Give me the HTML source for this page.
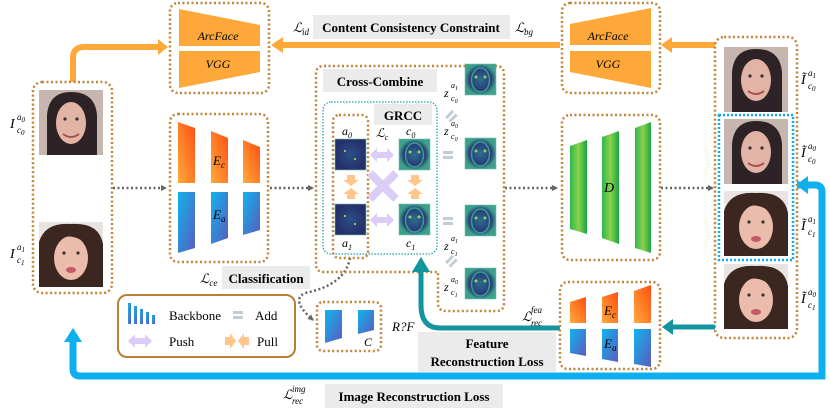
<!DOCTYPE html>
<html><head><meta charset="utf-8"><style>
html,body{margin:0;padding:0;background:#fff;}
svg{display:block;}
text{font-family:"Liberation Serif",serif;}
.b{font-weight:bold;font-size:13px;}
.i{font-style:italic;}
</style></head><body>
<svg width="830" height="414" viewBox="0 0 830 414" xmlns="http://www.w3.org/2000/svg">
<defs>
<linearGradient id="og" x1="0" y1="1" x2="1" y2="0"><stop offset="0" stop-color="#ffab3c"/><stop offset="1" stop-color="#ff4e10"/></linearGradient>
<linearGradient id="bg" x1="0" y1="0" x2="1" y2="1"><stop offset="0" stop-color="#10b4ec"/><stop offset="1" stop-color="#5a5cc0"/></linearGradient>
<linearGradient id="gg" x1="0" y1="0" x2="1" y2="0"><stop offset="0" stop-color="#2eb84a"/><stop offset="0.5" stop-color="#8ad050"/><stop offset="1" stop-color="#18a840"/></linearGradient>
<radialGradient id="fm"><stop offset="0" stop-color="#2a6f8e"/><stop offset="0.7" stop-color="#2a3a78"/><stop offset="1" stop-color="#3da08a"/></radialGradient>
<radialGradient id="fa"><stop offset="0" stop-color="#2c4f88"/><stop offset="1" stop-color="#25306a"/></radialGradient>
<g id="faceA">
<rect width="64" height="65" fill="#c7b6b0"/>
<path d="M8 65 L8 25 Q10 2 32 2 Q56 2 58 25 L58 65 Z" fill="#2d2327"/>
<ellipse cx="32" cy="33" rx="15" ry="21" fill="#e2b4a6"/>
<path d="M24 44 Q32 50 40 44" stroke="#a5504f" stroke-width="2" fill="none"/>
<circle cx="26" cy="29" r="1.6" fill="#333"/><circle cx="38" cy="29" r="1.6" fill="#333"/>
</g>
<g id="faceB">
<rect width="64" height="65" fill="#e9e4e2"/>
<path d="M0 65 L0 20 Q6 0 32 2 Q60 0 64 22 L64 65 Z" fill="#3b2620"/>
<ellipse cx="32" cy="36" rx="17" ry="22" fill="#ebbcab"/>
<path d="M16 20 Q30 8 48 22 L48 14 Q32 2 16 14 Z" fill="#3b2620"/>
<ellipse cx="32" cy="48" rx="5" ry="3" fill="#c45a68"/>
<circle cx="25" cy="31" r="1.6" fill="#333"/><circle cx="39" cy="31" r="1.6" fill="#333"/>
</g>
<g id="fmap"><rect width="31" height="31" fill="url(#fm)" stroke="#6ec0b0" stroke-width="0.6"/><ellipse cx="15.5" cy="16" rx="9" ry="12" fill="none" stroke="#35a090" stroke-width="1.5"/><circle cx="11" cy="13" r="1.5" fill="#9ad060"/><circle cx="20" cy="13" r="1.5" fill="#9ad060"/></g>
<g id="amap"><rect width="31" height="31" fill="url(#fa)" stroke="#6ec0b0" stroke-width="0.6"/><circle cx="10" cy="12" r="1" fill="#cde040"/><circle cx="20" cy="20" r="1" fill="#cde040"/></g>
<g id="push"><path d="M0 0 L7 -7 L7 -3 L17 -3 L17 -7 L24 0 L17 7 L17 3 L7 3 L7 7 Z" fill="#dccdf7"/></g>
<g id="pull"><path d="M4 -12 L12 -12 L12 -7 L16 -7 L8 -1 L0 -7 L4 -7 Z M4 12 L12 12 L12 7 L16 7 L8 1 L0 7 L4 7 Z" fill="#ffc58a"/></g>
<g id="eq"><rect x="0" y="0" width="10" height="3" fill="#c4cdd2"/><rect x="0" y="5" width="10" height="3" fill="#c4cdd2"/></g>
<marker id="ga" markerWidth="6" markerHeight="6" refX="5" refY="3" orient="auto" markerUnits="userSpaceOnUse"><path d="M0 0 L6 3 L0 6 Z" fill="#666"/></marker>
</defs>

<!-- orange arrows -->
<path d="M73 82 L73 58 Q73 47 84 47 L160 47" stroke="#ffa83a" stroke-width="6" fill="none"/>
<path d="M158 39 L168 47 L158 55 Z" fill="#ffa83a"/>
<path d="M715 45 L670 45" stroke="#ffa83a" stroke-width="6"/><path d="M672 37 L661 45 L672 53 Z" fill="#ffa83a"/>
<path d="M560 45 L282 45" stroke="#ffa83a" stroke-width="6"/><path d="M283 37 L271 45 L283 53 Z" fill="#ffa83a"/>
<rect x="313" y="15" width="197" height="24" fill="#ebebeb"/>
<text x="411" y="32" class="b" text-anchor="middle">Content Consistency Constraint</text>
<text x="293" y="32" font-size="13" class="i">ℒ</text><text x="302" y="35" font-size="9" class="i">id</text>
<text x="515" y="32" font-size="13" class="i">ℒ</text><text x="524" y="35" font-size="9" class="i">bg</text>

<!-- ArcFace left -->
<rect x="170" y="3" width="99" height="90" rx="8" fill="none" stroke="#c0843a" stroke-width="2.5" stroke-dasharray="2 2.5"/>
<path d="M179 9 L260 25 L260 46 L179 46 Z" fill="#ffa83a"/><path d="M179 51 L260 51 L260 72 L179 88 Z" fill="#ffa83a"/>
<text x="218" y="40" font-size="12" class="i" text-anchor="middle" font-family="Liberation Sans">ArcFace</text>
<text x="218" y="68" font-size="12" class="i" text-anchor="middle" font-family="Liberation Sans">VGG</text>
<!-- ArcFace right -->
<rect x="562" y="3" width="98" height="90" rx="8" fill="none" stroke="#c0843a" stroke-width="2.5" stroke-dasharray="2 2.5"/>
<path d="M570 24 L651 8 L651 45 L570 45 Z" fill="#ffa83a"/><path d="M570 51 L651 51 L651 88 L570 72 Z" fill="#ffa83a"/>
<text x="608" y="40" font-size="12" class="i" text-anchor="middle" font-family="Liberation Sans">ArcFace</text>
<text x="608" y="68" font-size="12" class="i" text-anchor="middle" font-family="Liberation Sans">VGG</text>

<!-- blue image recon loop -->
<path d="M797 185 L815 185 Q822 185 822 192 L822 376 L80 376 Q73 376 73 369 L73 340" stroke="#0db0ec" stroke-width="7" fill="none"/>
<path d="M64 342 L73 328 L82 342 Z" fill="#0db0ec"/>
<path d="M808 176 L796 185 L808 194 Z" fill="#0db0ec"/>
<rect x="325" y="384" width="178" height="24" fill="#ebebeb"/>
<text x="414" y="401" class="b" text-anchor="middle">Image Reconstruction Loss</text>
<text x="283" y="399" font-size="13" class="i">ℒ</text><text x="292" y="404" font-size="9" class="i">rec</text><text x="292" y="392" font-size="9" class="i">img</text>

<!-- left faces -->
<rect x="33" y="82" width="79" height="211" rx="9" fill="#fff" stroke="#c0843a" stroke-width="2.5" stroke-dasharray="2 2.5"/>
<use href="#faceA" x="39" y="90"/>
<use href="#faceB" x="39" y="222"/>
<text x="10" y="128" font-size="14" class="i">I</text><text x="17" y="133" font-size="9" class="i">c<tspan font-size="7" dy="2">0</tspan></text><text x="17" y="120" font-size="9" class="i">a<tspan font-size="7" dy="2">0</tspan></text>
<text x="10" y="258" font-size="14" class="i">I</text><text x="17" y="263" font-size="9" class="i">c<tspan font-size="7" dy="2">1</tspan></text><text x="17" y="250" font-size="9" class="i">a<tspan font-size="7" dy="2">1</tspan></text>

<!-- dotted arrows -->
<g stroke="#666" stroke-width="2.5" stroke-dasharray="2 2.5" fill="none" marker-end="url(#ga)">
<path d="M113 188 L166 188"/><path d="M270 188 L313 188"/><path d="M505 188 L557 188"/><path d="M661 188 L713 188"/>
<path d="M350 258 Q345 285 305 293 Q290 300 313 320"/>
</g>

<!-- encoder -->
<rect x="170" y="114" width="98" height="148" rx="8" fill="none" stroke="#c0843a" stroke-width="2.5" stroke-dasharray="2 2.5"/>
<path d="M178 122 L195 128 L195 183 L178 183 Z" fill="url(#og)"/>
<path d="M211 131 L228 138 L228 183 L211 183 Z" fill="url(#og)"/>
<path d="M243 140 L260 147 L260 183 L243 183 Z" fill="url(#og)"/>
<path d="M178 192 L195 192 L195 248 L178 253 Z" fill="url(#bg)"/>
<path d="M211 192 L228 192 L228 238 L211 244 Z" fill="url(#bg)"/>
<path d="M243 192 L260 192 L260 230 L243 235 Z" fill="url(#bg)"/>
<text x="213" y="165" font-size="13" class="i">E<tspan font-size="9" dy="3">c</tspan></text>
<text x="213" y="219" font-size="13" class="i">E<tspan font-size="9" dy="3">a</tspan></text>

<!-- cross-combine -->
<path d="M324 66 L496 66 Q504 66 504 74 L504 303 Q504 311 496 311 L446 311 Q438 311 438 303 L438 272 L324 272 Q316 272 316 264 L316 74 Q316 66 324 66 Z" fill="none" stroke="#c0843a" stroke-width="2.5" stroke-dasharray="2 2.5"/>
<rect x="323" y="69" width="114" height="23" fill="#ebebeb"/>
<text x="380" y="86" class="b" text-anchor="middle">Cross-Combine</text>
<rect x="323" y="102" width="114" height="152" rx="8" fill="none" stroke="#1aa0b0" stroke-width="1.2" stroke-dasharray="1.5 1.5"/>
<rect x="374" y="104" width="58" height="21" fill="#ebebeb"/>
<text x="403" y="120" class="b" text-anchor="middle">GRCC</text>
<rect x="333" y="115" width="35" height="143" rx="6" fill="none" stroke="#c0843a" stroke-width="2.5" stroke-dasharray="2 2.5"/>
<use href="#amap" x="335" y="139"/><use href="#amap" x="335" y="204"/>
<use href="#fmap" x="399" y="139"/><use href="#fmap" x="399" y="204"/>
<text x="342" y="135" font-size="12" class="i">a<tspan font-size="8" dy="3">0</tspan></text>
<text x="406" y="135" font-size="12" class="i">c<tspan font-size="8" dy="3">0</tspan></text>
<text x="342" y="247" font-size="12" class="i">a<tspan font-size="8" dy="3">1</tspan></text>
<text x="406" y="247" font-size="12" class="i">c<tspan font-size="8" dy="3">1</tspan></text>
<text x="376" y="137" font-size="12" class="i">ℒ<tspan font-size="8" dy="3">c</tspan></text>
<use href="#push" x="370" y="155"/><use href="#push" x="370" y="220"/>
<path d="M370 173 L396 199 M396 173 L370 199" stroke="#dccdf7" stroke-width="8"/>
<use href="#pull" x="343" y="187"/><use href="#pull" x="407" y="187"/>
<!-- z maps -->
<use href="#fmap" x="465" y="64"/><use href="#fmap" x="465" y="138"/><use href="#fmap" x="465" y="205"/><use href="#fmap" x="465" y="268"/>
<g font-size="12" class="i">
<text x="444" y="97">z</text><text x="451" y="101" font-size="8">c<tspan font-size="6" dy="2">0</tspan></text><text x="451" y="88" font-size="8">a<tspan font-size="6" dy="2">1</tspan></text>
<text x="444" y="135">z</text><text x="451" y="139" font-size="8">c<tspan font-size="6" dy="2">0</tspan></text><text x="451" y="126" font-size="8">a<tspan font-size="6" dy="2">0</tspan></text>
<text x="444" y="250">z</text><text x="451" y="254" font-size="8">c<tspan font-size="6" dy="2">1</tspan></text><text x="451" y="241" font-size="8">a<tspan font-size="6" dy="2">1</tspan></text>
<text x="444" y="291">z</text><text x="451" y="295" font-size="8">c<tspan font-size="6" dy="2">1</tspan></text><text x="451" y="282" font-size="8">a<tspan font-size="6" dy="2">0</tspan></text>
</g>
<use href="#eq" x="443" y="151"/><use href="#eq" x="443" y="217"/>
<use href="#eq" transform="translate(445,117) rotate(-45)"/><use href="#eq" transform="translate(445,262) rotate(-45)"/>

<!-- decoder -->
<rect x="562" y="115" width="98" height="145" rx="8" fill="none" stroke="#c0843a" stroke-width="2.5" stroke-dasharray="2 2.5"/>
<path d="M570 146 L587 140 L587 234 L570 229 Z" fill="url(#gg)"/>
<path d="M602 137 L619 131 L619 244 L602 238 Z" fill="url(#gg)"/>
<path d="M635 128 L651 122 L651 253 L635 248 Z" fill="url(#gg)"/>
<text x="604" y="192" font-size="14" class="i">D</text>

<!-- right faces -->
<rect x="715" y="37" width="82" height="301" rx="9" fill="#fff" stroke="#c0843a" stroke-width="2.5" stroke-dasharray="2 2.5"/>
<use href="#faceA" x="724" y="47"/><use href="#faceA" x="724" y="119"/>
<use href="#faceB" x="724" y="191"/><use href="#faceB" x="724" y="264"/>
<rect x="719" y="115" width="74" height="145" fill="none" stroke="#14aaee" stroke-width="2.5" stroke-dasharray="2 2"/>
<g class="i">
<text x="801" y="84" font-size="14">Ĩ</text><text x="808" y="89" font-size="9">c<tspan font-size="7" dy="2">0</tspan></text><text x="808" y="76" font-size="9">a<tspan font-size="7" dy="2">1</tspan></text>
<text x="801" y="157" font-size="14">Ĩ</text><text x="808" y="162" font-size="9">c<tspan font-size="7" dy="2">0</tspan></text><text x="808" y="149" font-size="9">a<tspan font-size="7" dy="2">0</tspan></text>
<text x="801" y="230" font-size="14">Ĩ</text><text x="808" y="235" font-size="9">c<tspan font-size="7" dy="2">1</tspan></text><text x="808" y="222" font-size="9">a<tspan font-size="7" dy="2">1</tspan></text>
<text x="801" y="303" font-size="14">Ĩ</text><text x="808" y="308" font-size="9">c<tspan font-size="7" dy="2">1</tspan></text><text x="808" y="295" font-size="9">a<tspan font-size="7" dy="2">0</tspan></text>
</g>

<!-- teal feature recon -->
<path d="M715 327 L672 327" stroke="#13949f" stroke-width="5"/><path d="M673 319 L662 327 L673 335 Z" fill="#13949f"/>
<path d="M560 328 L440 328 Q421 328 421 305 L421 270" stroke="#13949f" stroke-width="5" fill="none"/>
<path d="M412 272 L421 257 L430 272 Z" fill="#13949f"/>
<rect x="418" y="332" width="138" height="40" fill="#ebebeb"/>
<text x="487" y="348" class="b" text-anchor="middle">Feature</text>
<text x="487" y="366" class="b" text-anchor="middle">Reconstruction Loss</text>
<text x="522" y="321" font-size="13" class="i">ℒ</text><text x="531" y="326" font-size="9" class="i">rec</text><text x="531" y="313" font-size="9" class="i">fea</text>
<rect x="560" y="282" width="100" height="87" rx="8" fill="#fff" stroke="#c0843a" stroke-width="2.5" stroke-dasharray="2 2.5"/>
<path d="M570 302 L586 297 L586 323 L570 323 Z" fill="url(#og)"/>
<path d="M602 297 L618 292 L618 323 L602 323 Z" fill="url(#og)"/>
<path d="M634 291 L651 285 L651 323 L634 323 Z" fill="url(#og)"/>
<path d="M570 329 L586 329 L586 356 L570 353 Z" fill="url(#bg)"/>
<path d="M602 329 L618 329 L618 362 L602 359 Z" fill="url(#bg)"/>
<path d="M634 329 L651 329 L651 367 L634 364 Z" fill="url(#bg)"/>
<text x="604" y="315" font-size="13" class="i">E<tspan font-size="9" dy="3">c</tspan></text>
<text x="604" y="348" font-size="13" class="i">E<tspan font-size="9" dy="3">a</tspan></text>

<!-- classification -->
<rect x="222" y="266" width="88" height="23" fill="#ebebeb"/>
<text x="266" y="283" class="b" text-anchor="middle">Classification</text>
<text x="200" y="283" font-size="13" class="i">ℒ<tspan font-size="9" dy="3">ce</tspan></text>
<rect x="317" y="302" width="64" height="49" rx="6" fill="none" stroke="#c0843a" stroke-width="2.5" stroke-dasharray="2 2.5"/>
<path d="M325 310 L342 310 L342 338 L325 343 Z" fill="url(#bg)"/>
<path d="M358 310 L374 310 L374 330 L358 334 Z" fill="url(#bg)"/>
<text x="364" y="346" font-size="12" class="i">C</text>
<text x="392" y="331" font-size="13" class="i">R?F</text>

<!-- legend -->
<rect x="118" y="295" width="177" height="62" rx="9" fill="none" stroke="#b97f33" stroke-width="2"/>
<g fill="url(#bg)"><rect x="128" y="303" width="3" height="21"/><rect x="134" y="306" width="3" height="18"/><rect x="140" y="309" width="3" height="15"/><rect x="146" y="312" width="3" height="12"/><rect x="152" y="315" width="3" height="9"/></g>
<text x="169" y="320" font-size="13">Backbone</text>
<use href="#eq" x="233" y="311"/>
<text x="255" y="320" font-size="13">Add</text>
<use href="#push" x="128" y="341"/>
<text x="169" y="346" font-size="13">Push</text>
<use href="#pull" transform="translate(237,341) rotate(90) translate(-8,0)"/>
<text x="257" y="346" font-size="13">Pull</text>
</svg>
</body></html>
